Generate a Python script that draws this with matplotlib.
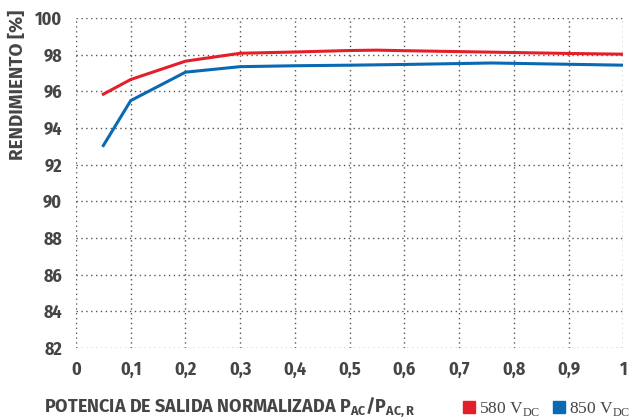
import matplotlib
matplotlib.use("Agg")
import matplotlib.pyplot as plt
from matplotlib.lines import Line2D

x_580 = [0.05, 0.1, 0.2, 0.3, 0.4, 0.5, 0.55, 0.6, 0.7, 0.8, 0.9, 1.0]
y_580 = [95.85, 96.65, 97.65, 98.08, 98.15, 98.23, 98.25, 98.22, 98.17, 98.12, 98.07, 98.03]
x_850 = [0.05, 0.1, 0.2, 0.3, 0.4, 0.5, 0.6, 0.7, 0.76, 0.8, 0.9, 1.0]
y_850 = [93.05, 95.5, 97.05, 97.35, 97.4, 97.43, 97.47, 97.52, 97.55, 97.53, 97.48, 97.43]

xticks = [0, 0.1, 0.2, 0.3, 0.4, 0.5, 0.6, 0.7, 0.8, 0.9, 1.0]
xticklabels = ["0", "0,1", "0,2", "0,3", "0,4", "0,5", "0,6", "0,7", "0,8", "0,9", "1"]
yticks = [82, 84, 86, 88, 90, 92, 94, 96, 98, 100]

RED = "#e3202a"
BLUE = "#0a69b3"
TXT = "#454545"
FONT = ["Fira Sans Condensed", "DejaVu Sans"]
FONT_W = ["Fira Sans", "DejaVu Sans"]
SERIF = ["Liberation Serif", "DejaVu Serif"]

fig = plt.figure(figsize=(6.3, 4.2), dpi=100)
ax = fig.add_axes([0.1206, 0.171, 0.869, 0.786])
ax.plot(x_580, y_580, color=RED, lw=2.2, zorder=3)
ax.plot(x_850, y_850, color=BLUE, lw=2.2, zorder=3)
ax.set_xlim(0, 1)
ax.set_ylim(82, 100)
ax.set_xticks(xticks)
ax.set_xticklabels(xticklabels)
ax.set_yticks(yticks)
for s in ax.spines.values():
    s.set_visible(False)
ax.grid(True, color="#555555", linestyle=(0, (1, 2.5)), lw=1.0)
ax.tick_params(axis="y", length=0, labelsize=13, labelcolor=TXT, pad=10)
ax.tick_params(axis="x", length=0, labelsize=13, labelcolor=TXT, pad=9)
for lab in ax.get_xticklabels() + ax.get_yticklabels():
    lab.set_fontfamily(FONT)
    lab.set_fontweight("bold")

fig.text(0.029, 0.798, "RENDIMIENTO [%]", rotation=90, ha="center", va="center",
         fontsize=13.5, fontweight="bold", color=TXT, family=FONT_W)
fig.text(0.07, 0.02, r"POTENCIA DE SALIDA NORMALIZADA P$_\mathregular{AC}$/P$_\mathregular{AC,R}$",
         ha="left", va="baseline", fontsize=13, fontweight="bold", color=TXT, family=FONT_W)

handles = [Line2D([], [], marker="s", color=RED, ls="", markersize=8),
           Line2D([], [], marker="s", color=BLUE, ls="", markersize=8)]
labels = [r"580 V$_\mathregular{DC}$", r"850 V$_\mathregular{DC}$"]
fig.legend(handles, labels, loc="lower right", bbox_to_anchor=(1.012, -0.012), ncol=2, frameon=False,
           handlelength=0.7, handletextpad=0.25, columnspacing=0.7, borderaxespad=0.0,
           prop={"family": SERIF, "size": 12.5}, labelcolor=TXT)

fig.savefig("out.png", dpi=100)
